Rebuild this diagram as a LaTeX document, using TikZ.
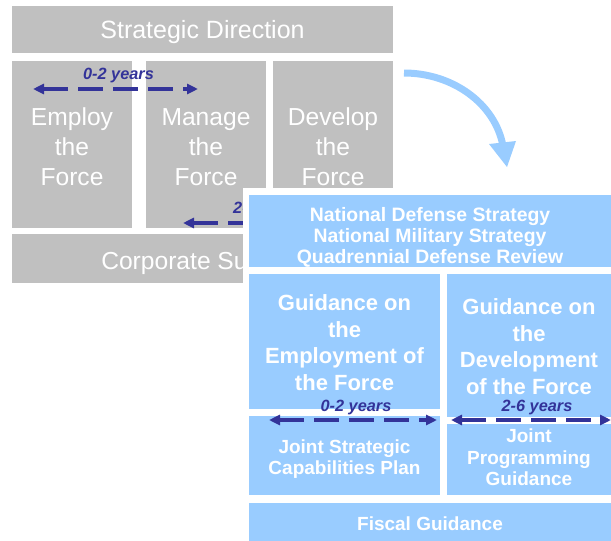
\documentclass[tikz,border=0pt]{standalone}
\usepackage{fontspec}
\setmainfont{Liberation Sans}
\usetikzlibrary{arrows.meta}
\definecolor{grayfill}{HTML}{C0C0C0}
\definecolor{bluefill}{HTML}{99CCFF}
\definecolor{darkblue}{HTML}{333399}
\begin{document}
\begin{tikzpicture}[x=1pt,y=-1pt,
  graybox/.style={fill=grayfill, inner sep=0pt},
  bluebox/.style={fill=bluefill, inner sep=0pt},
  graytext/.style={text=white, inner sep=0pt, align=center,
    font=\fontsize{24.6}{30}\selectfont},
  bluetext/.style={text=white, inner sep=0pt, align=center,
    font=\fontsize{19}{21.5}\selectfont\bfseries},
  bigbluetext/.style={bluetext, font=\fontsize{22}{26.7}\selectfont\bfseries},
  yearslabel/.style={text=darkblue, inner sep=0pt,
    font=\fontsize{16.3}{18}\selectfont\bfseries\itshape},
  yeararrow/.style={draw=darkblue, line width=3.5pt,
    dash pattern=on 25pt off 10pt,
    {Triangle[length=11pt,width=10pt]}-{Triangle[length=11pt,width=10pt]}},
  flowarrow/.style={draw=bluefill, line width=7pt}
]
\useasboundingbox (0,0) rectangle (611,541);
% gray framework
\node[graybox, minimum width=381pt, minimum height=47pt] (sd) at (202.5,29.5) {};
\node[graytext, font=\fontsize{25}{30}\selectfont] (sdt) at ([yshift=-2.5pt]sd.center) {Strategic Direction};
\node[graybox, minimum width=120pt, minimum height=167pt] (emp) at (72,144.5) {};
\node[graytext] (empt) at ([yshift=-2pt]emp.center) {Employ\\the\\Force};
\node[graybox, minimum width=120pt, minimum height=167pt] (man) at (206,144.5) {};
\node[graytext] (mant) at ([yshift=-3pt]man.center) {Manage\\the\\Force};
\node[graybox, minimum width=120pt, minimum height=167pt] (dev) at (333,144.5) {};
\node[graytext] (devt) at ([yshift=-2pt]dev.center) {Develop\\the\\Force};
\node[graybox, minimum width=381pt, minimum height=49pt] (cs) at (202.5,258.5) {};
\node[graytext] (cst) at ([yshift=-4.5pt]cs.center) {Corporate Support};
% gray timeline arrows
\node[yearslabel, anchor=base] (g02) at (118.5,79) {0-2 years};
\coordinate (g02l) at (33,89);
\coordinate (g02r) at (198,89);
\draw[yeararrow] (g02l) -- (g02r);
\node[yearslabel, anchor=base west] (g26) at (233,213) {2-6 years};
\coordinate (g26l) at (183,223);
\coordinate (g26r) at (345,223);
\draw[yeararrow] (g26l) -- (g26r);
% white backing of the guidance panel
\fill[white] (243,188) rectangle (611,545);
% blue guidance panel
\node[bluebox, minimum width=362pt, minimum height=72pt] (nds) at (430,231) {};
\node[bluetext, font=\fontsize{19.4}{20.7}\selectfont\bfseries] (ndst) at ([yshift=-6.5pt]nds.center)
  {National Defense Strategy\\National Military Strategy\\Quadrennial Defense Review};
\node[bluebox, minimum width=191pt, minimum height=135pt] (ge) at (344.5,341.5) {};
\node[bigbluetext] (get) at ([yshift=-1pt]ge.center)
  {Guidance on\\the\\Employment of\\the Force};
\node[bluebox, minimum width=164pt, minimum height=143pt] (gd) at (529,345.5) {};
\node[bigbluetext] (gdt) at ([yshift=-1pt]gd.center)
  {Guidance on\\the\\Development\\of the Force};
\node[bluebox, minimum width=191pt, minimum height=79pt] (jscp) at (344.5,455.5) {};
\node[bluetext] (jscpt) at ([yshift=-3.5pt]jscp.center)
  {Joint Strategic\\Capabilities Plan};
\node[bluebox, minimum width=164pt, minimum height=71pt] (jpg) at (529,459.5) {};
\node[bluetext] (jpgt) at ([yshift=2pt]jpg.center)
  {Joint\\Programming\\Guidance};
\node[bluebox, minimum width=362pt, minimum height=42pt] (fg) at (430,524) {};
\node[bluetext] (fgt) at ([yshift=0pt]fg.center) {Fiscal Guidance};
% blue timeline arrows
\node[yearslabel, anchor=base] (b02) at (356,411) {0-2 years};
\coordinate (b02l) at (269,420);
\coordinate (b02r) at (437,420);
\draw[yeararrow] (b02l) -- (b02r);
\node[yearslabel, anchor=base] (b26) at (537,411) {2-6 years};
\coordinate (b26l) at (451,420);
\coordinate (b26r) at (611,420);
\draw[yeararrow] (b26l) -- (b26r);
% curved flow arrow
\draw[flowarrow] (404,73) .. controls (452,73) and (495,103) .. (503,146);
\fill[bluefill] (489,144) -- (516,141) -- (507,167) -- cycle;
\end{tikzpicture}
\end{document}
